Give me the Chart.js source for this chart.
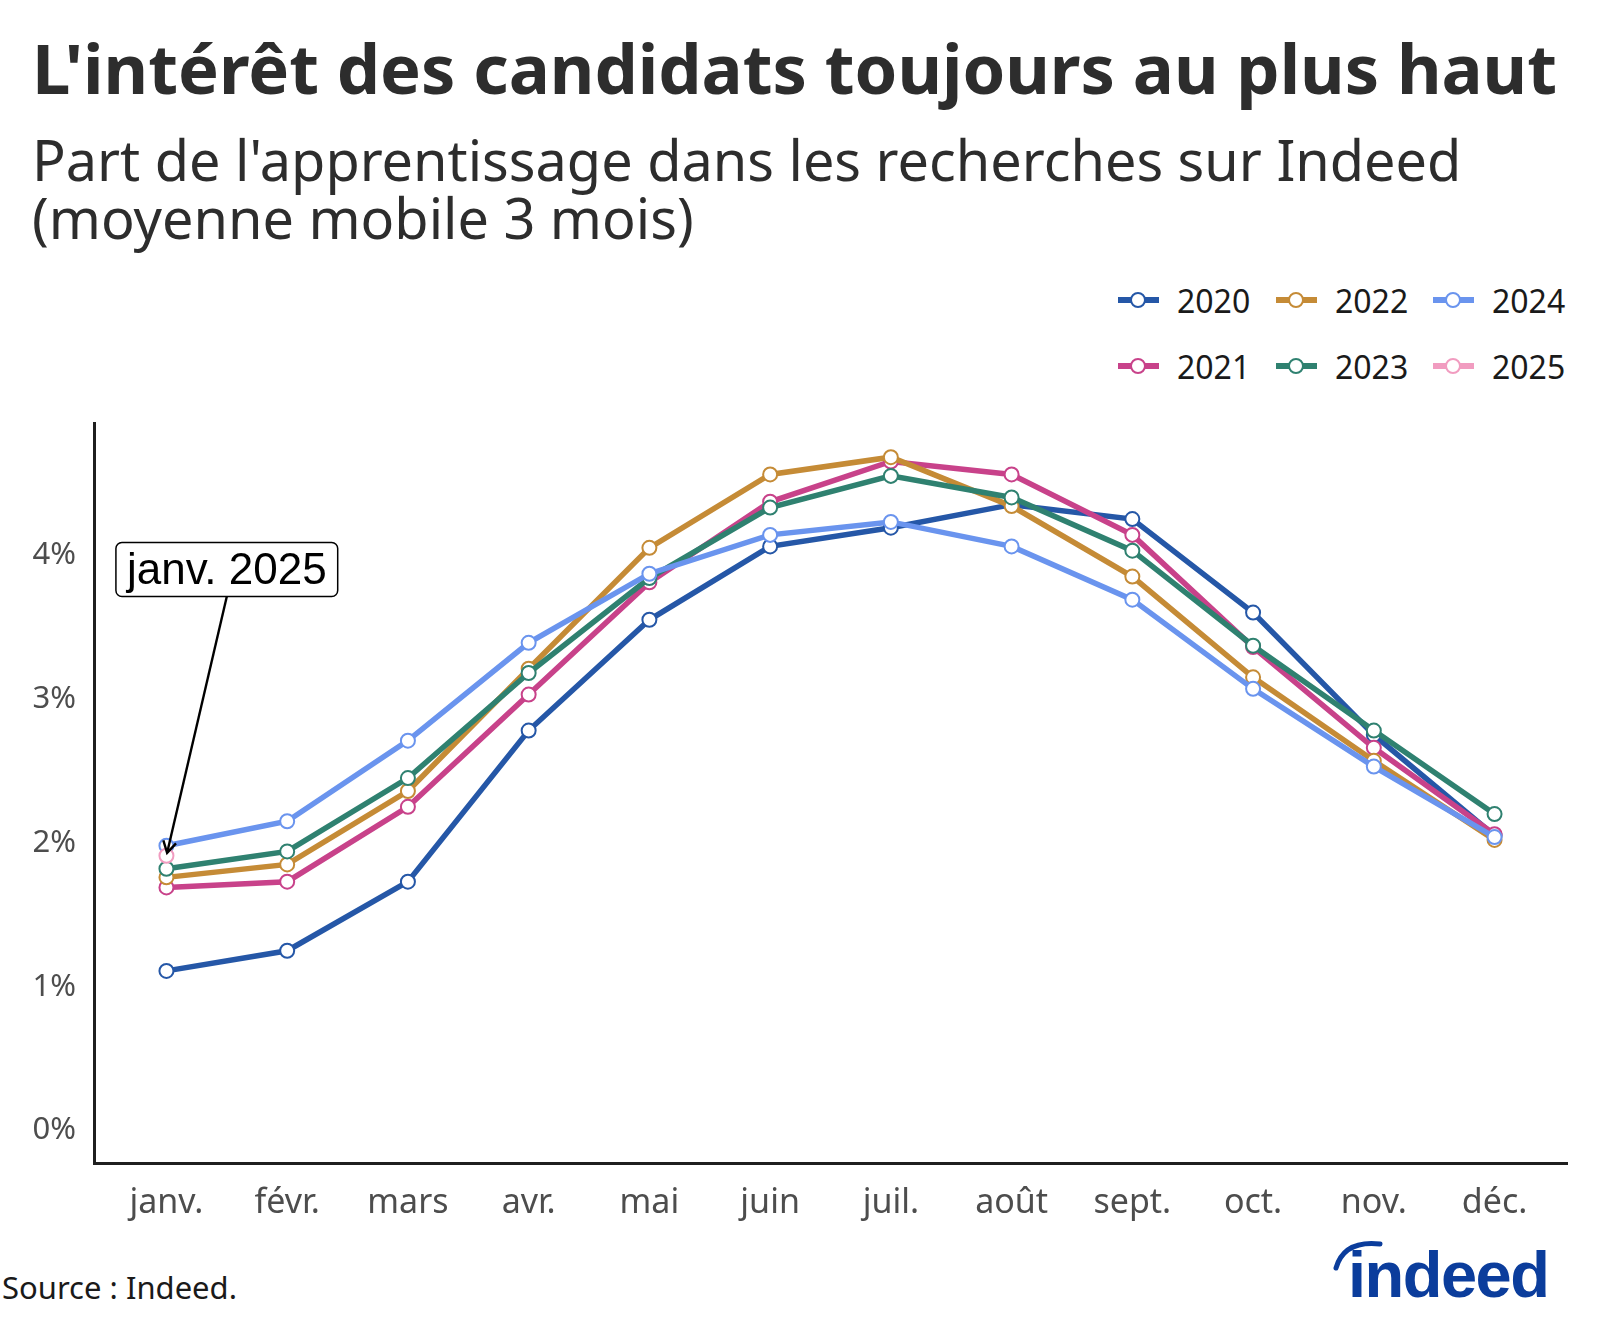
<!DOCTYPE html>
<html><head><meta charset="utf-8">
<script src="https://cdn.jsdelivr.net/npm/chart.js@4/dist/chart.umd.min.js"></script>
<style>
body{margin:0;width:1600px;height:1334px;background:#fff;position:relative;overflow:hidden;font-family:"Noto Sans",sans-serif;}
#title{position:absolute;left:32px;top:34px;font-size:68.6px;font-weight:700;line-height:1;color:#2d2d2d;white-space:nowrap;}
#subtitle{position:absolute;left:32px;top:130px;font-size:55.8px;font-weight:400;line-height:58px;color:#2d2d2d;white-space:nowrap;}
#legend{position:absolute;left:0;top:0;}
.lg{position:absolute;height:40px;display:flex;align-items:center;font-size:32px;color:#1a1a1a;}
.lg svg{margin-right:18px;}
#chartbox{position:absolute;left:0;top:400px;width:1600px;height:850px;}
#source{position:absolute;left:2px;top:1267px;font-size:31px;line-height:40px;color:#1a1a1a;}
#logo{position:absolute;left:1326px;top:1224px;}
</style></head>
<body>
<div id="title">L'intérêt des candidats toujours au plus haut</div>
<div id="subtitle">Part de l'apprentissage dans les recherches sur Indeed<br>(moyenne mobile 3 mois)</div>
<div id="legend"></div>
<div id="chartbox"><canvas id="c"></canvas></div>
<div id="source">Source : Indeed.</div>
<svg id="logo" width="250" height="90" viewBox="0 0 250 90">
  <path d="M10 44 Q18 16 54 20" stroke="#0b3d9c" stroke-width="5" fill="none" stroke-linecap="round"/>
  <text x="22" y="73" font-family="Liberation Sans" font-weight="700" font-size="65" letter-spacing="-1.5" fill="#0b3d9c">indeed</text>
</svg>
<script>
const months = ['janv.','févr.','mars','avr.','mai','juin','juil.','août','sept.','oct.','nov.','déc.'];
const yTicks = [0,1,2,3,4];
const years = ['2020','2021','2022','2023','2024','2025'];
const colors = ['#2557a7','#c8428a','#c58b36','#2f8170','#6a94ee','#f19cc0'];
const y2020 = [1.11,1.25,1.73,2.78,3.55,4.06,4.19,4.35,4.25,3.60,2.75,2.05];
const y2021 = [1.69,1.73,2.25,3.03,3.81,4.37,4.65,4.56,4.14,3.36,2.66,2.06];
const y2022 = [1.76,1.85,2.36,3.21,4.05,4.56,4.68,4.34,3.85,3.15,2.57,2.02];
const y2023 = [1.82,1.94,2.45,3.18,3.84,4.33,4.55,4.40,4.03,3.37,2.78,2.20];
const y2024 = [1.98,2.15,2.71,3.39,3.87,4.14,4.23,4.06,3.69,3.07,2.53,2.04];
const y2025 = [1.91];
const annotText = 'janv. 2025';
const annotPos = [0.5, 3.9];

const series = [y2020,y2021,y2022,y2023,y2024,y2025];

// HTML legend (3 columns x 2 rows, column-major)
const lg = document.getElementById('legend');
const colX = [1118, 1276, 1433];
const rowY = [300, 366];
years.forEach((yr,i)=>{
  const col = Math.floor(i/2), row = i%2;
  const d = document.createElement('div');
  d.className='lg';
  d.style.left = colX[col]+'px';
  d.style.top = (rowY[row]-20)+'px';
  d.innerHTML = `<svg width="41" height="20"><line x1="0" y1="10" x2="41" y2="10" stroke="${colors[i]}" stroke-width="6"/><circle cx="20" cy="10" r="7" fill="#fff" stroke="${colors[i]}" stroke-width="2"/></svg><span>${yr}</span>`;
  lg.appendChild(d);
});

const annotPlugin = {
  id:'annot',
  afterDatasetsDraw(chart){
    const {ctx, scales:{x,y}} = chart;
    const cx = x.getPixelForValue(annotPos[0]);
    const cy = y.getPixelForValue(annotPos[1]);
    ctx.save();
    ctx.font = '44px "Liberation Sans"';
    const tw = ctx.measureText(annotText).width;
    const bw = tw + 22, bh = 54;
    const bx = cx - bw/2, by = cy - bh/2;
    // arrow
    const px = x.getPixelForValue(0), py = y.getPixelForValue(y2025[0]);
    const sx = cx, sy = by + bh;
    const ang = Math.atan2(py - sy, px - sx);
    const tx = px - 3*Math.cos(ang), ty = py - 3*Math.sin(ang);
    ctx.strokeStyle = '#000'; ctx.lineWidth = 2.4;
    ctx.beginPath(); ctx.moveTo(sx, sy); ctx.lineTo(tx, ty); ctx.stroke();
    const L = 13, a = Math.PI/6;
    ctx.beginPath();
    ctx.moveTo(tx - L*Math.cos(ang - a), ty - L*Math.sin(ang - a));
    ctx.lineTo(tx, ty);
    ctx.lineTo(tx - L*Math.cos(ang + a), ty - L*Math.sin(ang + a));
    ctx.stroke();
    // box
    ctx.beginPath();
    ctx.roundRect(bx, by, bw, bh, 6);
    ctx.fillStyle = '#fff'; ctx.fill();
    ctx.lineWidth = 1.5; ctx.strokeStyle = '#000'; ctx.stroke();
    ctx.fillStyle = '#000'; ctx.textAlign = 'center'; ctx.textBaseline = 'middle';
    ctx.fillText(annotText, cx, cy + 2);
    ctx.restore();
  }
};

const datasets = series.map((arr,i)=>({
  label: years[i],
  data: arr.map((v,j)=>({x:j, y:v})),
  borderColor: colors[i],
  backgroundColor: colors[i],
  borderWidth: 5.5,
  pointRadius: 7,
  pointBorderWidth: 2,
  pointBackgroundColor: '#fff',
  pointBorderColor: colors[i],
  tension: 0,
  order: series.length - i,
  clip: false
}));

new Chart(document.getElementById('c'), {
  type:'line',
  data:{datasets},
  options:{
    responsive:true, maintainAspectRatio:false, animation:false, events:[],
    layout:{padding:{top:23.5,right:33,left:0,bottom:0}},
    plugins:{legend:{display:false}, tooltip:{enabled:false}},
    scales:{
      x:{type:'linear', min:-0.6, max:11.6,
        afterBuildTicks:s=>{s.ticks = months.map((m,i)=>({value:i}));},
        afterFit:s=>{s.height = 87; s.paddingLeft = 0; s.paddingRight = 0;},
        ticks:{callback:v=>months[v], autoSkip:false, maxRotation:0, padding:20,
          font:{family:'Noto Sans', size:34}, color:'#4d4d4d'},
        grid:{display:false, drawTicks:false},
        border:{display:true, color:'#1f1f1f', width:3}
      },
      y:{type:'linear', min:-0.225, max:4.914,
        afterBuildTicks:s=>{s.ticks = yTicks.map(v=>({value:v}));},
        afterFit:s=>{s.width = 94; s.paddingTop = 0; s.paddingBottom = 0;},
        ticks:{callback:v=>v+'%', padding:18, font:{family:'Noto Sans', size:31}, color:'#4d4d4d'},
        grid:{display:false, drawTicks:false},
        border:{display:true, color:'#1f1f1f', width:3}
      }
    }
  },
  plugins:[annotPlugin]
});
</script>
</body></html>
